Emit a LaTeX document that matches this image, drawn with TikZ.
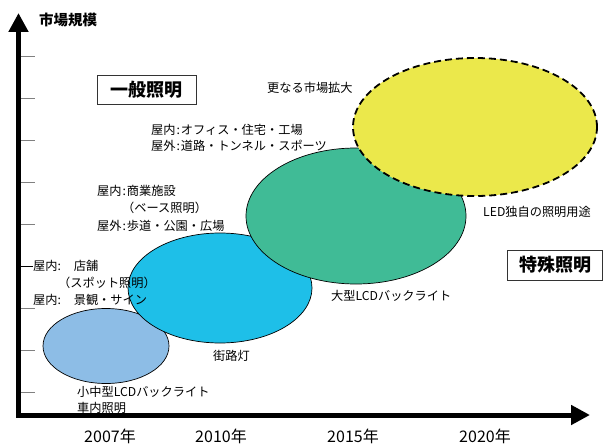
\documentclass[tikz,border=0pt]{standalone}
\usepackage{fontspec}
\newfontfamily\jp{Noto Sans CJK JP}
\usetikzlibrary{arrows.meta,shapes.geometric}
\definecolor{cLB}{RGB}{141,189,230}
\definecolor{cCY}{RGB}{30,191,232}
\definecolor{cGR}{RGB}{64,187,150}
\definecolor{cYE}{RGB}{235,232,75}
\definecolor{cTick}{RGB}{128,128,128}
\newcommand{\cl}{\hspace{0.08em}:\hspace{0.08em}}
\begin{document}
\begin{tikzpicture}[x=1pt,y=-1pt,
  lbl/.style={font=\jp\fontsize{12.2}{13}\selectfont, inner sep=0pt, anchor=west},
  yearlbl/.style={font=\jp\fontsize{16}{17}\selectfont, inner sep=0pt},
  catbox/.style={draw=black!80, line width=0.8pt, font=\jp\bfseries\fontsize{18}{19}\selectfont, inner sep=0pt},
  bub/.style={ellipse, draw=black, line width=0.7pt, inner sep=0pt},
  axis/.style={line width=5pt, -{Triangle[length=19pt,width=19pt]}},
  tick/.style={draw=cTick, line width=1pt}]
\useasboundingbox (0,0) rectangle (607,444);
% ticks
\foreach \yy in {57,98,140,182,224,308,350,392}{
  \coordinate (ta\yy) at (20,\yy); \coordinate (tb\yy) at (35,\yy);
  \draw[tick] (ta\yy) -- (tb\yy);}
\coordinate (ta266) at (20,266); \coordinate (tb266) at (33,266);
\draw[black, line width=1pt] (ta266) -- (tb266);
% bubbles
\node[bub, fill=cLB, minimum width=126pt, minimum height=75pt] (small) at (106,346) {};
\node[bub, fill=cCY, minimum width=184pt, minimum height=110pt] (street) at (220,288) {};
\node[bub, fill=cGR, minimum width=220pt, minimum height=136pt] (large) at (356,216) {};
\node[bub, fill=cYE, dashed, dash pattern=on 7pt off 4pt, line width=1.8pt, minimum width=244pt, minimum height=138pt] (future) at (475,127) {};
% axes
\coordinate (o) at (18.5,415);
\coordinate (ytop) at (18.5,13);
\coordinate (xend) at (590,415);
\draw[axis] (o) -- (ytop);
\draw[axis] ([xshift=-2.5pt]o) -- (xend);
% axis labels
\node[font=\jp\bfseries\fontsize{14.5}{15}\selectfont, inner sep=0pt, anchor=west] (ylab) at (39,20) {市場規模};
\node[yearlbl] (y2007) at (110,436) {2007年};
\node[yearlbl] (y2010) at (221,436) {2010年};
\node[yearlbl] (y2015) at (353,436) {2015年};
\node[yearlbl] (y2020) at (485,436) {2020年};
% category boxes
\node[catbox, minimum width=99pt, minimum height=29pt] (general) at (146.5,89.5) {一般照明};
\node[catbox, minimum width=95pt, minimum height=30pt] (special) at (555,265) {特殊照明};
% labels
\node[lbl] (t1) at (267,88) {更なる市場拡大};
\node[lbl] (t2a) at (151,130) {屋内\cl オフィス・住宅・工場};
\node[lbl] (t2b) at (151,146) {屋外\cl 道路・トンネル・スポーツ};
\node[lbl] (t3a) at (97,191) {屋内\cl 商業施設};
\node[lbl] (t3b) at (122,208) {（ベース照明）};
\node[lbl] (t3c) at (97,226) {屋外\cl 歩道・公園・広場};
\node[lbl] (t4a) at (33,266) {屋内:\hspace{1.05em}店舗};
\node[lbl] (t4b) at (58,283) {（スポット照明）};
\node[lbl] (t4c) at (33,300) {屋内:\hspace{1.05em}景観・サイン};
\node[lbl] (t5a) at (77,392) {小中型LCDバックライト};
\node[lbl] (t5b) at (77,408) {車内照明};
\node[lbl] (t6) at (213,356) {街路灯};
\node[lbl] (t7) at (331,296) {大型LCDバックライト};
\node[lbl] (t8) at (483,212) {LED独自の照明用途};
\end{tikzpicture}
\end{document}
